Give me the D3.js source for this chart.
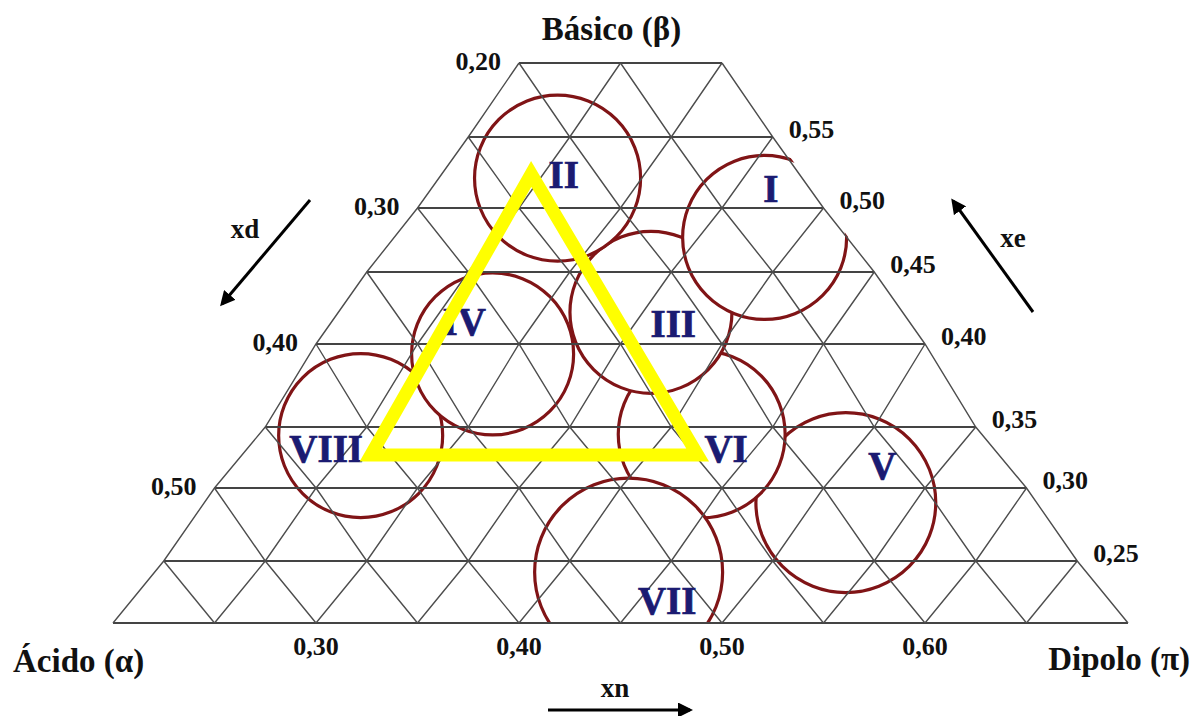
<!DOCTYPE html>
<html><head><meta charset="utf-8">
<script src="https://cdn.jsdelivr.net/npm/d3@7"></script>
<style>body{margin:0;background:#fff}svg{display:block}</style>
</head><body>
<svg id="chart" width="1196" height="716"></svg>
<script>
// ---------- data ----------
const xdTicks = [0.20, 0.30, 0.40, 0.50];                       // left side
const xeTicks = [0.55, 0.50, 0.45, 0.40, 0.35, 0.30, 0.25];     // right side
const xnTicks = [0.30, 0.40, 0.50, 0.60];                       // bottom
const axisTitles = ["Básico (β)", "Ácido (α)", "Dipolo (π)"];
const arrowNames = ["xd", "xe", "xn"];

const regionNames  = ["I", "II", "III", "IV", "V", "VI", "VII", "VIII"];
const regionXn     = [0.521, 0.419, 0.465, 0.387, 0.561, 0.490, 0.454, 0.322];
const regionXe     = [0.477, 0.521, 0.422, 0.394, 0.290, 0.344, 0.241, 0.343];
const regionRadius = [0.0404, 0.0409, 0.0399, 0.0399, 0.0443, 0.0411, 0.0463, 0.0404];
const labelXn      = [0.524, 0.422, 0.476, 0.373, 0.579, 0.502, 0.473, 0.305];
const labelXe      = [0.504, 0.514, 0.405, 0.406, 0.307, 0.321, 0.207, 0.321];
const drawOrder    = ["V", "VI", "VII", "III", "I", "II", "VIII", "IV"];

const triangleXn = [0.406, 0.327, 0.488];
const triangleXe = [0.524, 0.327, 0.327];

// ---------- scales ----------
const rowValues = d3.range(9).map(i => +(0.60 - 0.05 * i).toFixed(2)); // xe at each grid row
const x = d3.scaleLinear().domain([0.20, 0.70]).range([113, 1128]);
const y = d3.scaleLinear().domain(rowValues).range([63, 137, 208, 272, 344, 427, 488, 561, 623]);
const xdToXe = d3.scaleLinear().domain([0.20, 0.60]).range([0.60, 0.20]);
const leftXn = xe => 0.10 + 0.5 * xe;
const rightXn = xe => 0.80 - 0.5 * xe;
const fmt = v => v.toFixed(2).replace(".", ",");

const svg = d3.select("#chart");
const FONT = "'Liberation Serif', 'Times New Roman', serif";

// clip to trapezoid
const trapezoid = [[leftXn(0.60), 0.60], [rightXn(0.60), 0.60], [rightXn(0.20), 0.20], [leftXn(0.20), 0.20]];
const defs = svg.append("defs");
defs.append("clipPath").attr("id", "clipT").append("polygon")
  .attr("points", trapezoid.map(p => [x(p[0]), y(p[1])].join(",")).join(" "));
defs.append("marker").attr("id", "arrowHead").attr("viewBox", "0 0 10 10")
  .attr("refX", 8).attr("refY", 5).attr("markerWidth", 5).attr("markerHeight", 5)
  .attr("orient", "auto").append("path").attr("d", "M0,0 L10,5 L0,10 Z").attr("fill", "#000");

// ---------- circles ----------
const regions = regionNames.map((n, i) => ({
  name: n, xn: regionXn[i], xe: regionXe[i], r: regionRadius[i], lxn: labelXn[i], lxe: labelXe[i]
}));
const byName = Object.fromEntries(regions.map(d => [d.name, d]));
const gCirc = svg.append("g").attr("clip-path", "url(#clipT)");
gCirc.selectAll("circle").data(drawOrder.map(n => byName[n])).join("circle")
  .attr("cx", d => x(d.xn)).attr("cy", d => y(d.xe))
  .attr("r", d => x(0.20 + d.r) - x(0.20))
  .attr("fill", "#fff").attr("stroke", "#801416").attr("stroke-width", 3.2);

// ---------- grid ----------
const gGrid = svg.append("g");
const line = d3.line().x(d => x(d[0])).y(d => y(d[1]));
// horizontal lines
gGrid.selectAll("line.h").data(rowValues).join("line").attr("class", "h")
  .attr("x1", d => x(leftXn(d))).attr("x2", d => x(rightXn(d)))
  .attr("y1", d => y(d)).attr("y2", d => y(d))
  .attr("stroke", "#444").attr("stroke-width", 1.9);
// diagonal lines
const diagonals = [];
for (let k = 0; k <= 9; k++) {            // "/" lines from bottom vertex k
  const pts = [];
  for (let i = 8; i >= 0; i--) {
    const xe = rowValues[i];
    const xn = 0.20 + 0.05 * k + 0.5 * (xe - 0.20);
    if (xn > rightXn(xe) + 1e-9) break;
    pts.push([xn, xe]);
  }
  if (pts.length > 1) diagonals.push(pts);
}
for (let k = 1; k <= 10; k++) {           // "\" lines from bottom vertex k
  const pts = [];
  for (let i = 8; i >= 0; i--) {
    const xe = rowValues[i];
    const xn = 0.20 + 0.05 * k - 0.5 * (xe - 0.20);
    if (xn < leftXn(xe) - 1e-9) break;
    pts.push([xn, xe]);
  }
  if (pts.length > 1) diagonals.push(pts);
}
gGrid.selectAll("path.d").data(diagonals).join("path").attr("class", "d")
  .attr("d", line).attr("fill", "none").attr("stroke", "#4d4d4d").attr("stroke-width", 1.4);

// ---------- region labels ----------
svg.append("g").selectAll("text").data(regions).join("text")
  .attr("x", d => x(d.lxn)).attr("y", d => y(d.lxe))
  .attr("text-anchor", "middle").attr("font-family", FONT).attr("font-weight", "bold")
  .attr("font-size", 39).attr("fill", "#1b1b72")
  .attr("stroke", "#1b1b72").attr("stroke-width", 0.7).text(d => d.name);

// ---------- selectivity triangle ----------
const tri = triangleXn.map((v, i) => [v, triangleXe[i]]);
svg.append("path").attr("d", line(tri) + "Z")
  .attr("fill", "none").attr("stroke", "#ffff00").attr("stroke-width", 13)
  .attr("stroke-linejoin", "miter").attr("stroke-miterlimit", 10);

// ---------- tick labels ----------
const tickStyle = s => s.attr("font-family", FONT).attr("font-weight", "bold")
  .attr("font-size", 26).attr("fill", "#111");
svg.append("g").selectAll("text").data(xdTicks).join("text")
  .attr("x", d => x(leftXn(xdToXe(d))) - 18).attr("y", d => y(xdToXe(d)) + 7)
  .attr("text-anchor", "end").call(tickStyle).text(fmt);
svg.append("g").selectAll("text").data(xeTicks).join("text")
  .attr("x", d => x(rightXn(d)) + 16).attr("y", d => y(d) + 1)
  .attr("text-anchor", "start").call(tickStyle).text(fmt);
svg.append("g").selectAll("text").data(xnTicks).join("text")
  .attr("x", d => x(d)).attr("y", y(0.20) + 32)
  .attr("text-anchor", "middle").call(tickStyle).text(fmt);

// ---------- axis titles ----------
const titleStyle = s => s.attr("font-family", FONT).attr("font-weight", "bold")
  .attr("font-size", 33).attr("fill", "#111");
svg.append("text").attr("x", x(0.45) - 9).attr("y", 40).attr("text-anchor", "middle")
  .call(titleStyle).text(axisTitles[0]);
svg.append("text").attr("x", 13).attr("y", 672).attr("text-anchor", "start")
  .call(titleStyle).text(axisTitles[1]);
svg.append("text").attr("x", 1190).attr("y", 670).attr("text-anchor", "end")
  .call(titleStyle).text(axisTitles[2]);

// ---------- direction arrows ----------
const arrows = [
  { name: arrowNames[0], from: [310, 200], to: [222, 304], lx: 245, ly: 238 },
  { name: arrowNames[1], from: [1033, 312], to: [953, 201], lx: 1013, ly: 247 },
  { name: arrowNames[2], from: [548, 710], to: [690, 710], lx: 615, ly: 697 }
];
const gA = svg.append("g");
gA.selectAll("line").data(arrows).join("line")
  .attr("x1", d => d.from[0]).attr("y1", d => d.from[1])
  .attr("x2", d => d.to[0]).attr("y2", d => d.to[1])
  .attr("stroke", "#000").attr("stroke-width", 3).attr("marker-end", "url(#arrowHead)");
gA.selectAll("text").data(arrows).join("text")
  .attr("x", d => d.lx).attr("y", d => d.ly).attr("text-anchor", "middle")
  .attr("font-family", FONT).attr("font-weight", "bold").attr("font-size", 27).attr("fill", "#111")
  .text(d => d.name);
</script>
</body></html>
